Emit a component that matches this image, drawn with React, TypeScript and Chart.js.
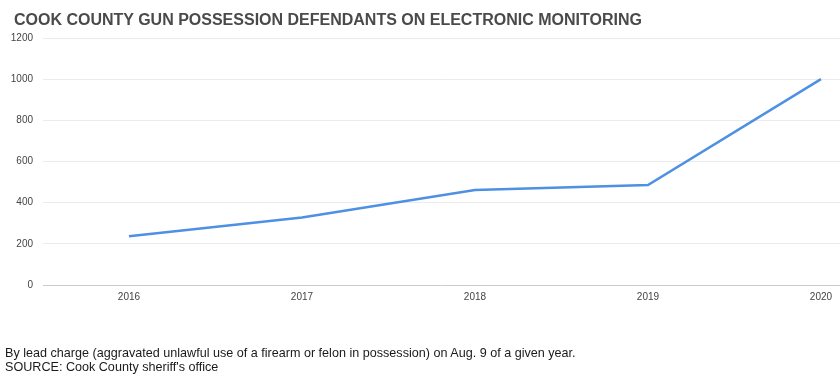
import React, { useEffect, useRef } from "react";
import { Chart, registerables } from "chart.js";

Chart.register(...registerables);

const TITLE = "COOK COUNTY GUN POSSESSION DEFENDANTS ON ELECTRONIC MONITORING";
const NOTE_LINES = [
  "By lead charge (aggravated unlawful use of a firearm or felon in possession) on Aug. 9 of a given year.",
  "SOURCE: Cook County sheriff's office",
];
const YEARS = [2016, 2017, 2018, 2019, 2020];
const DEFENDANTS = [237, 328, 462, 486, 1000];
const Y_TICKS = [0, 200, 400, 600, 800, 1000, 1200];

export default function App() {
  const canvasRef = useRef<HTMLCanvasElement | null>(null);

  useEffect(() => {
    document.body.style.margin = "0";
    const canvas = canvasRef.current;
    if (!canvas) return;
    const chart = new Chart(canvas, {
      type: "line",
      data: {
        datasets: [
          {
            data: YEARS.map((y, i) => ({ x: y, y: DEFENDANTS[i] })),
            borderColor: "#4d90e4",
            borderWidth: 2.5,
            pointRadius: 0,
            pointHoverRadius: 0,
            tension: 0,
            fill: false,
          },
        ],
      },
      options: {
        responsive: false,
        animation: false,
        layout: { padding: { top: 38, bottom: 76, left: 0, right: 0 } },
        plugins: {
          legend: { display: false },
          tooltip: { enabled: false },
          title: { display: false },
        },
        scales: {
          x: {
            type: "linear",
            min: 2015.503,
            max: 2020.11,
            afterBuildTicks: (scale: any) => {
              scale.ticks = YEARS.map((v) => ({ value: v }));
            },
            afterFit: (scale: any) => {
              scale.height = 20;
            },
            grid: { display: false, drawTicks: false },
            border: { display: false },
            ticks: {
              autoSkip: false,
              maxRotation: 0,
              padding: 6,
              color: "#444444",
              font: { family: "'Liberation Sans', Arial, sans-serif", size: 10 },
              callback: (v: any) => String(v),
            },
          },
          y: {
            min: 0,
            max: 1200,
            afterBuildTicks: (scale: any) => {
              scale.ticks = Y_TICKS.map((v) => ({ value: v }));
            },
            afterFit: (scale: any) => {
              scale.width = 43;
            },
            grid: {
              drawTicks: false,
              color: (ctx: any) => (ctx.tick && ctx.tick.value === 0 ? "#cccccc" : "#ebebeb"),
              lineWidth: 1,
            },
            border: { display: false },
            ticks: {
              padding: 10,
              color: "#444444",
              font: { family: "'Liberation Sans', Arial, sans-serif", size: 10 },
              callback: (v: any) => String(v),
            },
          },
        },
      },
    });
    return () => chart.destroy();
  }, []);

  return (
    <div style={{ position: "relative", width: 840, height: 381, background: "#ffffff", overflow: "hidden" }}>
      <canvas ref={canvasRef} width={840} height={381} style={{ position: "absolute", left: 0, top: 0 }} />
      <div
        style={{
          position: "absolute",
          left: 14,
          top: 10,
          fontFamily: "'Liberation Sans', Arial, sans-serif",
          fontWeight: "bold",
          fontSize: 16,
          lineHeight: "20px",
          color: "#4a4a4a",
          whiteSpace: "nowrap",
        }}
      >
        {TITLE}
      </div>
      <div
        style={{
          position: "absolute",
          left: 5,
          top: 346,
          fontFamily: "'Liberation Sans', Arial, sans-serif",
          fontSize: 12.6,
          lineHeight: "14px",
          color: "#1a1a1a",
          whiteSpace: "nowrap",
        }}
      >
        {NOTE_LINES.map((l, i) => (
          <div key={i}>{l}</div>
        ))}
      </div>
    </div>
  );
}
